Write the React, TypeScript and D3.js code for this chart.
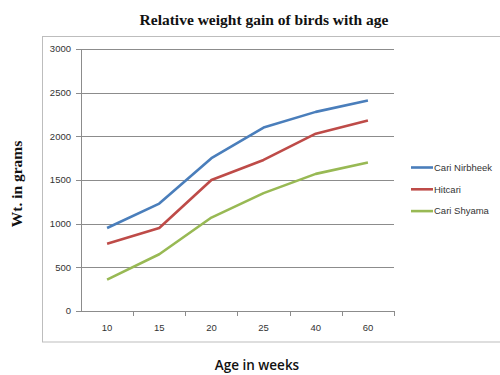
import React from "react";
import * as d3 from "d3";

const categories = ["10", "15", "20", "25", "40", "60"];
const seriesNames = ["Cari Nirbheek", "Hitcari", "Cari Shyama"];
const cariNirbheek = [950, 1230, 1750, 2100, 2280, 2410];
const hitcari = [770, 950, 1500, 1730, 2030, 2180];
const cariShyama = [360, 650, 1070, 1350, 1570, 1700];
const yTicks = [0, 500, 1000, 1500, 2000, 2500, 3000];
const colors = ["#4A7EBB", "#BE4B48", "#98B954"];

export default function App() {
  const W = 500, H = 375;
  const left = 81, right = 394, top = 49, bottom = 311;
  const x = d3.scaleBand<string>().domain(categories).range([left, right]);
  const y = d3.scaleLinear().domain([0, 3000]).range([bottom, top]);
  const data = [cariNirbheek, hitcari, cariShyama];
  const line = d3
    .line<number>()
    .x((_, i) => (x(categories[i]) as number) + x.bandwidth() / 2)
    .y((d) => y(d));
  const tickFont = "'Liberation Sans', Arial, sans-serif";
  return (
    <svg
      width={W}
      height={H}
      style={{ position: "absolute", left: 0, top: 0, background: "#fff" }}
    >
      <rect x={0} y={0} width={W} height={H} fill="#fff" />
      <rect x={42.5} y={36.5} width={480} height={305.5} fill="none" stroke="#bdbdbd" strokeWidth={1} />
      <text
        x={264}
        y={25}
        textAnchor="middle"
        fontFamily="'Liberation Serif', 'Times New Roman', serif"
        fontWeight="bold"
        fontSize={15.5}
        fill="#111"
      >
        Relative weight gain of birds with age
      </text>
      {yTicks.map((t) => (
        <g key={t}>
          {t > 0 && (
            <line x1={left} x2={right} y1={Math.round(y(t)) + 0.5} y2={Math.round(y(t)) + 0.5} stroke="#8c8c8c" strokeWidth={1} />
          )}
          <line x1={left - 5} x2={left} y1={Math.round(y(t)) + 0.5} y2={Math.round(y(t)) + 0.5} stroke="#8c8c8c" />
          <text
            x={left - 10}
            y={y(t)}
            dy="0.35em"
            textAnchor="end"
            fontFamily={tickFont}
            fontSize={9.5}
            fill="#333"
          >
            {t}
          </text>
        </g>
      ))}
      <line x1={left + 0.5} x2={left + 0.5} y1={top} y2={bottom} stroke="#8c8c8c" />
      <line x1={left} x2={right} y1={Math.round(bottom) + 0.5} y2={Math.round(bottom) + 0.5} stroke="#8c8c8c" />
      {categories.map((c, i) => (
        <g key={c}>
          <line
            x1={Math.round((x(c) as number) + x.bandwidth()) + 0.5}
            x2={Math.round((x(c) as number) + x.bandwidth()) + 0.5}
            y1={bottom}
            y2={bottom + 5}
            stroke="#8c8c8c"
          />
          <text
            x={(x(c) as number) + x.bandwidth() / 2}
            y={328}
            dy="0.35em"
            textAnchor="middle"
            fontFamily={tickFont}
            fontSize={9.5}
            fill="#333"
          >
            {c}
          </text>
        </g>
      ))}
      {data.map((d, i) => (
        <path key={i} d={line(d) as string} fill="none" stroke={colors[i]} strokeWidth={2.6} strokeLinejoin="round" />
      ))}
      {seriesNames.map((n, i) => (
        <g key={n}>
          <line x1={411} x2={433} y1={167.5 + i * 21.8} y2={167.5 + i * 21.8} stroke={colors[i]} strokeWidth={2.6} />
          <text x={434} y={167.5 + i * 21.8} dy="0.35em" fontFamily={tickFont} fontSize={9.5} fill="#333">
            {n}
          </text>
        </g>
      ))}
      <text
        x={257}
        y={365}
        dy="0.35em"
        textAnchor="middle"
        fontFamily="'Open Sans', 'Liberation Sans', sans-serif"
        fontWeight="600"
        fontSize={13.5}
        fill="#111"
      >
        Age in weeks
      </text>
      <text
        transform="translate(17,184) rotate(-90)"
        dy="0.35em"
        textAnchor="middle"
        fontFamily="'Liberation Serif', 'Times New Roman', serif"
        fontWeight="bold"
        fontSize={15.5}
        fill="#111"
      >
        Wt. in grams
      </text>
    </svg>
  );
}
